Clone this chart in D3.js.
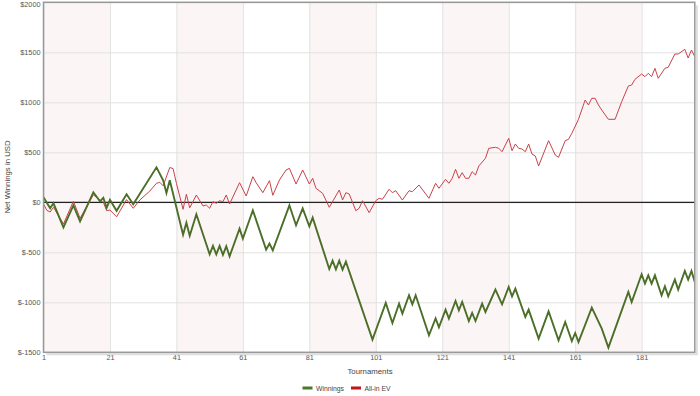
<!DOCTYPE html>
<html><head><meta charset="utf-8">
<script src="https://cdn.jsdelivr.net/npm/d3@7"></script>
<style>html,body{margin:0;padding:0;background:#fff;}svg{display:block;font-family:"Liberation Sans",Arial,sans-serif;}</style>
</head><body><svg id="c" width="700" height="396"></svg>
<script>
const xTicks = [1,21,41,61,81,101,121,141,161,181];
const yTicks = [-1500,-1000,-500,0,500,1000,1500,2000];
const seriesNames = ["Winnings","All-in EV"];
const winT = [1,3,4,7,10,12,16,18,19,20,21,23,26,28,35,37,38,39,43,44,45,47,51,52,53,54,55,56,57,60,61,64,68,69,70,75,77,79,81,82,87,88,89,90,91,92,100,104,106,108,109,111,112,113,117,119,120,122,123,125,126,127,129,130,131,133,134,137,139,141,142,143,146,147,150,153,156,158,160,161,162,166,169,171,177,178,181,182,183,184,185,187,188,189,191,192,194,195,196,197];
const winV = [50,-60,-10,-250,-30,-190,100,10,45,-55,25,-85,80,-20,350,220,93,220,-325,-205,-335,-120,-520,-435,-520,-435,-525,-440,-540,-263,-363,-80,-473,-413,-480,-30,-230,-60,-240,-153,-667,-583,-670,-583,-673,-593,-1373,-1007,-1207,-1013,-1113,-930,-1020,-930,-1330,-1160,-1250,-1073,-1163,-987,-1080,-997,-1187,-1107,-1187,-1013,-1097,-873,-1020,-847,-940,-863,-1147,-1073,-1363,-1090,-1380,-1197,-1387,-1307,-1397,-1053,-1263,-1453,-897,-997,-720,-813,-730,-813,-730,-930,-840,-940,-773,-873,-687,-773,-687,-797];
const evT = [1,2,3,4,7,10,12,16,18,19,20,21,23,26,28,30,33,35,36,37,39,40,41,43,44,45,47,49,50,51,52,53,54,55,56,57,60,62,64,65,67,69,70,72,74,75,77,79,81,82,83,85,87,90,91,92,93,95,96,97,99,101,102,103,105,106,107,109,111,112,114,117,119,120,122,123,124,125,126,127,128,129,130,131,132,134,135,137,138,139,141,142,143,144,145,146,147,148,149,150,153,155,156,158,159,160,162,164,165,166,167,168,169,171,173,175,177,178,179,181,182,183,184,185,186,188,189,191,192,194,195,196,197];
const evV = [-17,-80,-97,-50,-217,10,-160,75,20,0,-83,-77,-145,27,-60,23,113,190,200,165,348,337,190,-70,80,-55,73,-37,-27,-60,6,-10,16,6,73,-17,196,63,256,196,96,216,70,223,323,340,183,323,183,240,140,90,-50,123,23,96,83,-84,-60,16,-104,16,40,30,130,96,116,23,116,106,173,40,190,140,230,190,240,330,240,296,240,240,306,273,363,440,540,550,540,506,640,516,583,540,533,506,583,483,463,363,616,473,450,616,630,690,830,1023,973,1040,1040,973,923,830,830,1006,1163,1173,1230,1283,1256,1290,1256,1340,1240,1340,1350,1483,1483,1530,1443,1523,1456];

const svg = d3.select("#c");
const L = 43.5, R = 694.8, T = 2.3, B = 352.3;
const x = d3.scaleLinear().domain([1,197]).range([L,R]);
const y = d3.scaleLinear().domain([-1500,2000]).range([B,T]);

// shaded bands
const bands = xTicks.filter((d,i)=>i%2===0);
svg.append("g").selectAll("rect").data(bands).join("rect")
  .attr("x", d=>x(d)).attr("y", T)
  .attr("width", d=>Math.min(x(d+20),R)-x(d)).attr("height", B-T)
  .attr("fill","#fcf5f5");

// grid
const xAxisG = svg.append("g").attr("transform",`translate(0,${B})`)
  .call(d3.axisBottom(x).tickValues(xTicks).tickSize(-(B-T)).tickFormat(d=>d));
xAxisG.select(".domain").remove();
xAxisG.selectAll(".tick line").attr("stroke","#e2e2e2");
xAxisG.selectAll(".tick text").attr("fill","#555").attr("font-size","7.3px").attr("dy","0.55em").attr("y",4);

const yAxisG = svg.append("g").attr("transform",`translate(${L},0)`)
  .call(d3.axisLeft(y).tickValues(yTicks).tickSize(-(R-L)).tickFormat(d=>"$"+d));
yAxisG.select(".domain").remove();
yAxisG.selectAll(".tick line").attr("stroke","#e2e2e2");
yAxisG.selectAll(".tick text").attr("fill","#555").attr("font-size","7.3px").attr("x",-3)
  .attr("dy", d => d===2000 ? "0.62em" : "0.32em");

// zero line
svg.append("line").attr("x1",L).attr("x2",R).attr("y1",y(0)).attr("y2",y(0))
  .attr("stroke","#222").attr("stroke-width",1.3);

// lines
const clip = svg.append("clipPath").attr("id","pc").append("rect")
  .attr("x",L).attr("y",T).attr("width",R-L).attr("height",B-T);
const line = d3.line().x(d=>x(d[0])).y(d=>y(d[1]));
const evData = evT.map((t,i)=>[t,evV[i]]);
const winData = winT.map((t,i)=>[t,winV[i]]);
svg.append("path").datum(evData).attr("d",line).attr("fill","none")
  .attr("stroke","#c8424a").attr("stroke-width",1).attr("clip-path","url(#pc)");
svg.append("path").datum(winData).attr("d",line).attr("fill","none")
  .attr("stroke","#4b6f28").attr("stroke-width",1.9).attr("stroke-linejoin","miter").attr("clip-path","url(#pc)");

// frame with shadow
svg.append("path").attr("d",`M${R+2},${T+3}V${B+2}H${L+3}`).attr("fill","none").attr("stroke","#ddd").attr("stroke-width",2);
svg.append("rect").attr("x",L).attr("y",T).attr("width",R-L).attr("height",B-T)
  .attr("fill","none").attr("stroke","#999").attr("stroke-width",1.5);

// axis titles
svg.append("text").attr("x",370).attr("y",374).attr("text-anchor","middle")
  .attr("font-size","7.8px").attr("fill","#444").text("Tournaments");
svg.append("text").attr("transform","translate(10,177) rotate(-90)").attr("text-anchor","middle")
  .attr("font-size","7.8px").attr("fill","#444").text("Net Winnings in USD");

// legend
const lg = svg.append("g");
const legendItems = [{name:seriesNames[0],color:"#4b7a2a",x:302.5},{name:seriesNames[1],color:"#c0141e",x:351}];
legendItems.forEach(it=>{
  lg.append("rect").attr("x",it.x).attr("y",386.5).attr("width",10).attr("height",3).attr("fill",it.color);
  lg.append("text").attr("x",it.x+13.5).attr("y",390.5).attr("font-size","6.8px").attr("fill","#444").text(it.name);
});
</script></body></html>
